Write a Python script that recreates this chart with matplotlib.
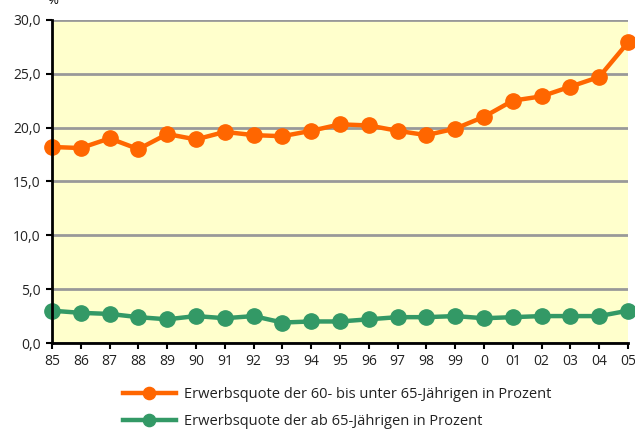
import numpy as np
import matplotlib
matplotlib.use("Agg")
import matplotlib.pyplot as plt

plt.rcParams['font.family'] = ['Open Sans', 'DejaVu Sans']

jahre = ["85", "86", "87", "88", "89", "90", "91", "92", "93", "94", "95",
         "96", "97", "98", "99", "0", "01", "02", "03", "04", "05"]
quote_60_65 = [18.2, 18.1, 19.0, 18.0, 19.4, 18.9, 19.6, 19.3, 19.2, 19.7, 20.3,
               20.2, 19.7, 19.3, 19.9, 21.0, 22.5, 22.9, 23.8, 24.7, 27.9]
quote_65 = [3.0, 2.8, 2.7, 2.4, 2.2, 2.5, 2.3, 2.5, 1.9, 2.0, 2.0,
            2.2, 2.4, 2.4, 2.5, 2.3, 2.4, 2.5, 2.5, 2.5, 3.0]
y_ticks = [0, 5, 10, 15, 20, 25, 30]

fig = plt.figure(figsize=(6.35, 4.32), dpi=100)
ax = fig.add_axes([0.0819, 0.206, 0.907, 0.748])
ax.set_facecolor('#FFFFCC')

x = np.arange(len(jahre))
ax.plot(x, quote_60_65, color='#FF6600', lw=3.2, marker='o', ms=11,
        clip_on=False, zorder=4,
        label='Erwerbsquote der 60- bis unter 65-Jährigen in Prozent')
ax.plot(x, quote_65, color='#339966', lw=3.2, marker='o', ms=11,
        clip_on=False, zorder=4,
        label='Erwerbsquote der ab 65-Jährigen in Prozent')

ax.set_xlim(0, len(jahre) - 1)
ax.set_ylim(0, 30)
ax.set_xticks(x)
ax.set_xticklabels(jahre)
ax.set_yticks(y_ticks)
ax.set_yticklabels([f"{v:.1f}".replace('.', ',') for v in y_ticks])
ax.yaxis.grid(True, color='#999999', lw=2)
ax.set_axisbelow(True)

for s in ['top', 'right']:
    ax.spines[s].set_visible(False)
for s in ['left', 'bottom']:
    ax.spines[s].set_linewidth(2)
    ax.spines[s].set_zorder(5)
ax.tick_params(axis='both', labelsize=10, color='black', width=1.5,
               length=4, direction='out', pad=4, labelcolor='#222222')

# abgeschnittenes Einheitenzeichen oben links
fig.text(0.083, 1.0, '%', fontsize=9.5, ha='center', va='center')

fig.legend(loc='upper left', bbox_to_anchor=(0.194, 0.104), ncol=1,
           frameon=False, fontsize=10.5, handlelength=3.6, labelspacing=0.85,
           handletextpad=0.55, borderpad=0, borderaxespad=0, markerscale=0.8,
           labelcolor='#222222')

fig.savefig('out.png', dpi=100)
